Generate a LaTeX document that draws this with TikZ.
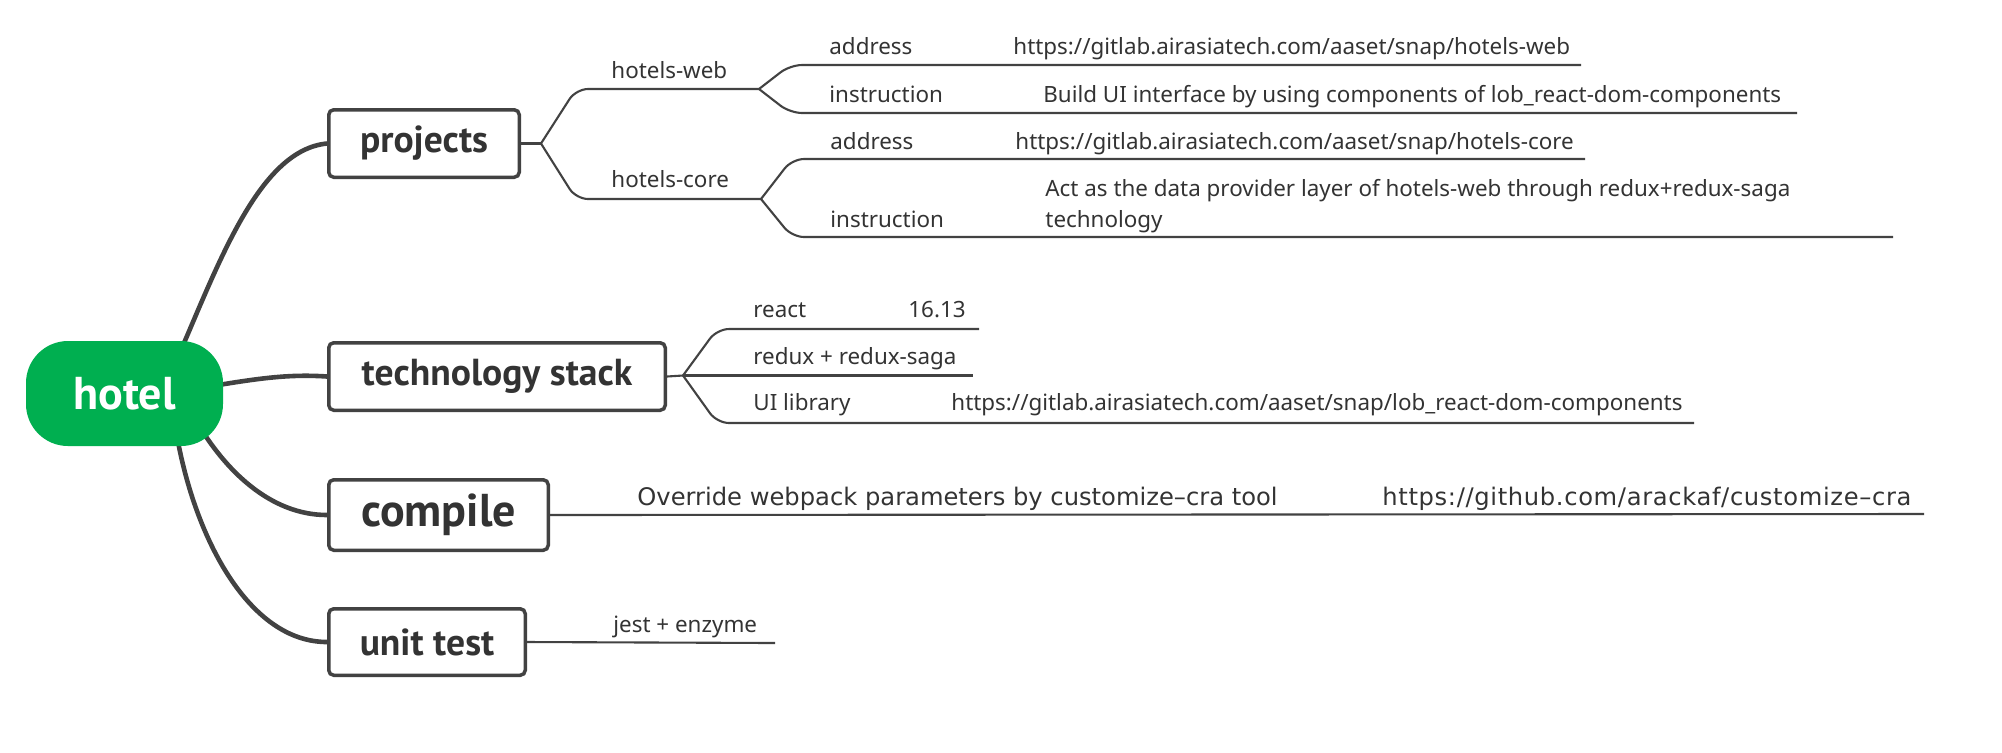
\documentclass[tikz,border=0pt]{standalone}
\usepackage{fontspec}
\setmainfont{Noto Sans}
\newfontfamily\cmpfont{DejaVu Sans}
\newfontfamily\cmpurlfont[LetterSpace=2.7]{DejaVu Sans}
\newfontfamily\topicfont{PT Sans}
\usetikzlibrary{calc}
\definecolor{ln}{HTML}{424242}
\definecolor{tx}{HTML}{333333}
\definecolor{grn}{HTML}{00AF50}
\pgfdeclarelayer{bg}
\pgfsetlayers{bg,main}
\begin{document}
\begin{tikzpicture}[x=0.5pt,y=-0.5pt,
  lbl/.style={anchor=base west, inner sep=0pt, text=tx, font=\fontsize{11.2}{13}\selectfont},
  biglbl/.style={anchor=base west, inner sep=0pt, text=tx, font=\cmpfont\fontsize{12.1}{14}\selectfont},
  topic/.style={draw=ln, line width=1.75pt, rounded corners=2.5pt, fill=white, text=tx,
    font=\topicfont\bfseries\fontsize{18.8}{22}\selectfont, inner sep=0pt},
  rootnode/.style={fill=grn, rounded corners=21pt, text=white, inner sep=0pt,
    font=\topicfont\bfseries\fontsize{23}{26}\selectfont, minimum width=98.5pt, minimum height=52.5pt},
  mainline/.style={draw=ln, line width=2.3pt},
  subline/.style={draw=ln, line width=1.05pt, rounded corners=6pt}]
\useasboundingbox (0,0) rectangle (2002,752);

% root and main topics
\node[rootnode] (hotel) at (124.5,393.5) {hotel};
\node[topic, minimum width=95.25pt, minimum height=33.75pt] (projects) at (424,143.5) {projects};
\node[topic, minimum width=168.25pt, minimum height=33.75pt] (tech) at (497,376.5) {technology stack};
\node[topic, minimum width=109.75pt, minimum height=35.25pt, font=\topicfont\bfseries\fontsize{23}{26}\selectfont] (compile) at (438.5,515) {compile};
\node[topic, minimum width=98.25pt, minimum height=33.25pt] (unit) at (427,642) {unit test};

% labels
\node[lbl] (hw) at (611,78) {hotels-web};
\node[lbl] (hc) at (611,187) {hotels-core};
\node[lbl] (aw) at (829,54) {address};
\node[lbl] (awu) at (1013,54) {https://gitlab.airasiatech.com/aaset/snap/hotels-web};
\node[lbl] (iw) at (829,102) {instruction};
\node[lbl] (iwt) at (1043,102) {Build UI interface by using components of lob\_react-dom-components};
\node[lbl] (ac) at (830,149) {address};
\node[lbl] (acu) at (1015,149) {https://gitlab.airasiatech.com/aaset/snap/hotels-core};
\node[lbl] (ic) at (830,227) {instruction};
\node[lbl] (ict1) at (1045,196) {Act as the data provider layer of hotels-web through redux+redux-saga};
\node[lbl] (ict2) at (1045,227) {technology};
\node[lbl] (re) at (753,317) {react};
\node[lbl] (rev) at (908,317) {16.13};
\node[lbl] (rd) at (753,364) {redux + redux-saga};
\node[lbl] (ui) at (753,410) {UI library};
\node[lbl] (uiu) at (951,410) {https://gitlab.airasiatech.com/aaset/snap/lob\_react-dom-components};
\node[biglbl] (ov) at (637,505) {Override webpack parameters by customize–cra tool};
\node[biglbl, font=\cmpurlfont\fontsize{12.1}{14}\selectfont] (gh) at (1382,505) {https://github.com/arackaf/customize–cra};
\node[lbl] (je) at (613,632) {jest + enzyme};

% fork points and line ends
\coordinate (pf) at (541,143.5);
\coordinate (fw) at (759,89);
\coordinate (fc) at (761,199);
\coordinate (awE) at (1581,65);
\coordinate (iwE) at (1797,113);
\coordinate (acE) at (1585,159);
\coordinate (icE) at (1893,237);
\coordinate (tf) at (683,375.5);
\coordinate (reE) at (979,329);
\coordinate (rdE) at (973,375.5);
\coordinate (uiE) at (1694,423);
\coordinate (cE) at (1924,514);
\coordinate (uE) at (775,643);

\begin{pgfonlayer}{bg}
% main connectors
\draw[mainline] ($(hotel.center)+(55,-40)$) .. controls (220,260) and (260,150) .. (projects.west);
\draw[mainline] ($(hotel.center)+(85,-7)$) .. controls (260,378) and (290,374) .. (tech.west);
\draw[mainline] ($(hotel.center)+(72,28)$) .. controls (225,470) and (270,515) .. (compile.west);
\draw[mainline] ($(hotel.center)+(52,40)$) .. controls (195,540) and (250,642) .. (unit.west);
% projects subtree
\draw[subline] (projects.east) -- (pf);
\draw[subline] (pf) -- (576,89) -- (fw);
\draw[subline] (pf) -- (576,199) -- (fc);
\draw[subline] (fw) -- (790,65) -- (awE);
\draw[subline] (fw) -- (790,113) -- (iwE);
\draw[subline] (fc) -- (792,159) -- (acE);
\draw[subline] (fc) -- (792,237) -- (icE);
% technology stack subtree
\draw[subline] (tech.east) -- (tf);
\draw[subline] (tf) -- (717,329) -- (reE);
\draw[subline] (tf) -- (rdE);
\draw[subline] (tf) -- (717,423) -- (uiE);
% compile and unit test
\draw[subline] (compile.east) -- (cE);
\draw[subline] (unit.east) -- (uE);
\end{pgfonlayer}
\end{tikzpicture}
\end{document}
